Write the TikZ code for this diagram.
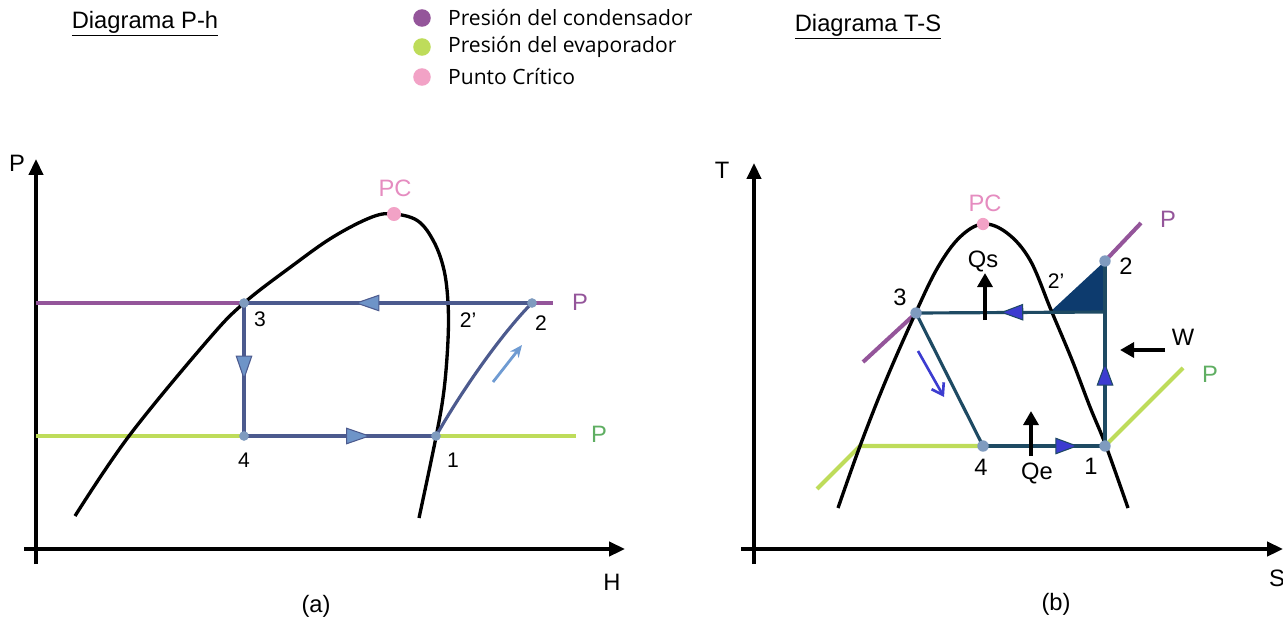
\documentclass[tikz,border=0pt]{standalone}
\usepackage{fontspec}
\setmainfont{Liberation Sans}
\newfontfamily\legendfont{Open Sans}
\usetikzlibrary{arrows.meta,decorations.markings}
\definecolor{condpurple}{HTML}{94559A}
\definecolor{evapgreen}{HTML}{BEDC5A}
\definecolor{critpink}{HTML}{F2A2C6}
\definecolor{pinktext}{HTML}{E58CC0}
\definecolor{greentext}{HTML}{5FAE62}
\definecolor{cyclegray}{HTML}{4C5A8E}
\definecolor{tipgray}{HTML}{6E94C8}
\definecolor{dotgray}{HTML}{7F9BBF}
\definecolor{cyclenavy}{HTML}{1E4A63}
\definecolor{fillnavy}{HTML}{0D3B6E}
\definecolor{tipblue}{HTML}{3C3CD0}
\definecolor{flowblue}{HTML}{6F9BD2}

\begin{document}
\begin{tikzpicture}[x=0.02cm, y=-0.02cm,
  every node/.style={font=\fontsize{13.5}{16}\selectfont, inner sep=1pt},
  axis/.style={line width=2pt, -{Triangle[length=9pt,width=8pt]}},
  dome/.style={line width=1.9pt, black},
  isocond/.style={line width=2.3pt, condpurple},
  isoevap/.style={line width=2.3pt, evapgreen},
  cyclea/.style={line width=1.8pt, cyclegray},
  cycleb/.style={line width=1.8pt, cyclenavy},
  midtipa/.style={postaction={decorate}, decoration={markings,
    mark=at position #1 with {\arrow[line width=0.6pt]{Triangle[length=14pt,width=9.5pt,fill=tipgray,color=cyclegray]}}}},
  midtipb/.style={postaction={decorate}, decoration={markings,
    mark=at position #1 with {\arrow[line width=0.6pt]{Triangle[length=13pt,width=9.5pt,fill=tipblue,color=cyclenavy]}}}},
  heat/.style={line width=2pt, -{Triangle[length=8pt,width=8.5pt]}},
  statept/.style={circle, fill=dotgray, minimum size=5.5pt, inner sep=0pt},
  numa/.style={font=\fontsize{12}{14}\selectfont},
  numb/.style={font=\fontsize{13.5}{16}\selectfont},
  legdot/.style={circle, minimum size=10pt, inner sep=0pt}]
  \useasboundingbox (0,0) rectangle (1283,619);

  % titles and legend
  \node (tituloph) at (145,24) {\underline{Diagrama P-h}};
  \node (titulots) at (868,27) {\underline{Diagrama T-S}};
  \node[legdot, fill=condpurple] (dotcond) at (422,18) {};
  \node[legdot, fill=evapgreen] (dotevap) at (422,47) {};
  \node[legdot, fill=critpink] (dotcrit) at (422,77) {};
  \node[anchor=west, font=\legendfont\fontsize{12}{14}\selectfont] at (446,18) {Presión del condensador};
  \node[anchor=west, font=\legendfont\fontsize{12}{14}\selectfont] at (446,47) {Presión del evaporador};
  \node[anchor=west, font=\legendfont\fontsize{12}{14}\selectfont] at (446,77) {Punto Crítico};

  % ---------- (a) P-h ----------
  \coordinate (oa) at (36,549);
  \coordinate (ya) at (36,159);
  \coordinate (xa) at (625,549);
  \draw[axis] (36,564) -- (ya);
  \draw[axis] (24,549) -- (xa);
  \node (lblp) at (17,163) {P};
  \node (lblh) at (612,582) {H};
  \node (lbla) at (316,606) {(a)};

  \coordinate (a1) at (436,436);
  \coordinate (a2) at (532,303);
  \coordinate (a3) at (244,303);
  \coordinate (a4) at (244,436);
  \coordinate (apc) at (394,214);

  \draw[isocond] (36,303) -- (553,303);
  \draw[isoevap] (36,436) -- (576,436);
  \draw[dome] plot[smooth, tension=0.6] coordinates {(75,516) (129,436) (208,340) (244,303)
    (292,266) (333,237) (372,217) (394,214) (418,221) (434,242) (444,270) (448,303)
    (448,340) (444,390) (436,437) (419,518)};

  \draw[cyclea, midtipa=0.615] (a2) -- (a3);
  \draw[cyclea, midtipa=0.58] (a3) -- (a4);
  \draw[cyclea, midtipa=0.66] (a4) -- (a1);
  \draw[cyclea] (a1) .. controls (465,385) and (505,330) .. (a2);
  \coordinate (fa0) at (493,382);
  \coordinate (fa1) at (522,345);
  \draw[flowblue, line width=1.6pt, -{Stealth[length=7pt,width=6pt]}] (fa0) -- (fa1);

  \foreach \p in {a1,a2,a3,a4} \node[statept] at (\p) {};
  \node[statept, fill=critpink, minimum size=8pt] at (apc) {};
  \node[text=pinktext] (pca) at (395,188) {PC};
  \node[numa] at (260,319) {3};
  \node[numa] at (468,320) {2'};
  \node[numa] at (541,323) {2};
  \node[numa] at (244,460) {4};
  \node[numa] at (453,460) {1};
  \node[text=condpurple] at (580,302) {P};
  \node[text=greentext] at (599,434) {P};

  % ---------- (b) T-S ----------
  \coordinate (yb) at (754,163);
  \coordinate (xb) at (1283,549);
  \draw[axis] (754,564) -- (yb);
  \draw[axis] (741,549) -- (xb);
  \node (lblt) at (722,170) {T};
  \node (lbls) at (1277,578) {S};
  \node (lblb) at (1056,604) {(b)};

  \coordinate (b1) at (1105,446);
  \coordinate (b2) at (1105,261);
  \coordinate (b2p) at (1050,312);
  \coordinate (b2c) at (1105,312);
  \coordinate (b3) at (916,313);
  \coordinate (b4) at (983,446);
  \coordinate (bpc) at (983,224);

  \draw[isocond] (863,362) -- (b3);
  \draw[isocond] (b2) -- (1141,223);
  \draw[isoevap] (817,489) -- (860,446) -- (b4);
  \draw[isoevap] (b1) -- (1183,368);
  \fill[fillnavy] (b2p) -- (b2) -- (b2c) -- cycle;
  \draw[dome] plot[smooth, tension=0.6] coordinates {(838,508) (860,446) (886,380) (916,312)
    (938,267) (960,237) (983,224) (1007,233) (1030,260) (1051,310) (1072,360)
    (1090,407) (1106,446) (1128,508)};

  \draw[cycleb] (b3) -- (b4);
  \draw[cycleb, midtipb=0.78] (b4) -- (b1);
  \draw[cycleb, midtipb=0.45] (b1) -- (b2);
  \draw[cycleb] (b3) -- (b2c);
  \path[midtipb=0.37] (b2p) -- (b3);
  \coordinate (fb0) at (918,351);
  \coordinate (fb1) at (944,397);
  \draw[tipblue, line width=1.5pt, -{Straight Barb[length=6pt,width=8pt]}] (fb0) -- (fb1);

  \coordinate (qs0) at (985,320);
  \coordinate (qs1) at (985,273);
  \coordinate (qe0) at (1031,456);
  \coordinate (qe1) at (1031,411);
  \coordinate (w0) at (1165,350);
  \coordinate (w1) at (1120,350);
  \draw[heat] (qs0) -- (qs1);
  \draw[heat] (qe0) -- (qe1);
  \draw[heat] (w0) -- (w1);

  \foreach \p in {b1,b2,b3,b4} \node[statept, minimum size=6.5pt] at (\p) {};
  \node[statept, fill=critpink, minimum size=7pt] at (bpc) {};
  \node[text=pinktext] (pcb) at (985,203) {PC};
  \node[numb] at (983,261) {Qs};
  \node[numa] at (1056,281) {2'};
  \node[numb] at (900,297) {3};
  \node[numb] at (1126,266) {2};
  \node[numb] at (1183,337) {W};
  \node[numb] at (981,467) {4};
  \node[numb] at (1037,473) {Qe};
  \node[numb] at (1091,466) {1};
  \node[text=condpurple] at (1168,219) {P};
  \node[text=greentext] at (1210,374) {P};
\end{tikzpicture}
\end{document}
